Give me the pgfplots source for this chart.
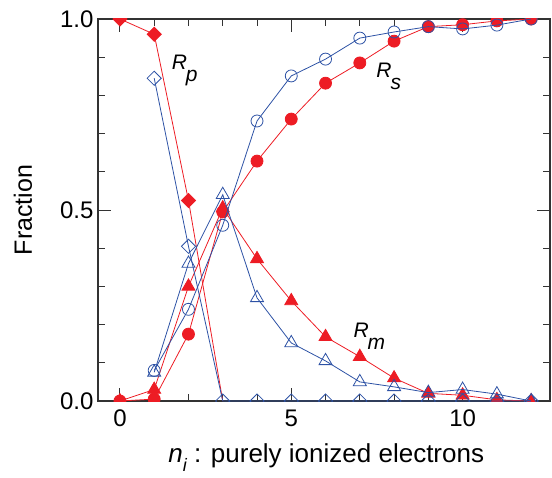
\documentclass[border=0pt]{standalone}
\usepackage{fontspec}
\setmainfont{Liberation Sans}
\usepackage{pgfplots}
\pgfplotsset{compat=1.18}
\definecolor{dred}{RGB}{237,28,36}
\definecolor{dblue}{RGB}{45,82,165}
\newcommand{\lab}[2]{{\fontsize{21bp}{25bp}\selectfont\itshape #1\kern-0.05em\raisebox{-0.6em}{#2}}}

\begin{document}
\begin{tikzpicture}
\begin{axis}[
  at={(0,0)}, anchor=south west,
  scale only axis, width=452bp, height=382bp,
  xmin=-0.64, xmax=12.55, ymin=0, ymax=1,
  xtick={0,5,10}, ytick={0,0.5,1},
  minor x tick num=4, minor y tick num=4,
  major tick length=13bp, minor tick length=7bp,
  tick style={black!80, line width=0.9bp},
  axis line style={black!80, line width=1.1bp},
  /pgf/number format/assume math mode=true,
  tick label style={font=\fontsize{24bp}{28bp}\selectfont},
  yticklabel style={/pgf/number format/fixed, /pgf/number format/fixed zerofill,
    /pgf/number format/precision=1, xshift=-1bp},
  xticklabel style={yshift=-5bp},
  every axis x label/.style={at={([yshift=-61bp]axis description cs:0.505,0)}, anchor=base,
    font=\fontsize{26bp}{30bp}\selectfont},
  every axis y label/.style={at={([xshift=-66bp]axis description cs:0,0.5)}, rotate=90, anchor=base,
    font=\fontsize{25bp}{30bp}\selectfont},
  xlabel={\textit{n}\raisebox{-0.35em}{\fontsize{18bp}{20bp}\selectfont\itshape i} : purely ionized electrons},
  ylabel={Fraction},
  clip marker paths=true,
]
% red (filled) series
\addplot[dred, line width=0.8bp, mark=square*, mark size=5bp, mark indices={1,2,3},
  mark options={rotate=45, solid, fill=dred}] coordinates {
  (0,1.0) (1,0.96) (2,0.525) (3,0)
};
\addplot[dred, line width=0.8bp, mark=*, mark size=6bp, mark options={fill=dred}] coordinates {
  (0,0) (1,0.005) (2,0.175) (3,0.495) (4,0.628) (5,0.738) (6,0.832)
  (7,0.885) (8,0.942) (9,0.98) (10,0.985) (11,0.995) (12,1.0)
};
\addplot[dred, line width=0.8bp, mark=triangle*, mark size=7.5bp, mark options={fill=dred}] coordinates {
  (0,0) (1,0.03) (2,0.30) (3,0.505) (4,0.372) (5,0.262) (6,0.168)
  (7,0.116) (8,0.06) (9,0.02) (10,0.015) (11,0.003) (12,0)
};
% blue (open) series
\addplot[dblue, line width=0.8bp, mark=square, mark size=5bp, mark options={rotate=45}] coordinates {
  (1,0.845) (2,0.405) (3,0) (4,0) (5,0) (6,0) (7,0) (8,0) (9,0) (10,0) (11,0) (12,0)
};
\addplot[dblue, line width=0.8bp, mark=o, mark size=6bp] coordinates {
  (1,0.08) (2,0.24) (3,0.46) (4,0.733) (5,0.851) (6,0.895)
  (7,0.95) (8,0.966) (9,0.98) (10,0.974) (11,0.984) (12,1.0)
};
\addplot[dblue, line width=0.8bp, mark=triangle, mark size=7.5bp] coordinates {
  (1,0.075) (2,0.36) (3,0.54) (4,0.27) (5,0.152) (6,0.105)
  (7,0.05) (8,0.037) (9,0.022) (10,0.03) (11,0.018) (12,0)
};
\node[anchor=base west, inner sep=0pt] at (axis cs:1.51,0.869) {\lab{R}{p}};
\node[anchor=base west, inner sep=0pt] at (axis cs:7.48,0.848) {\lab{R}{s}};
\node[anchor=base west, inner sep=0pt] at (axis cs:6.81,0.1675) {\lab{R}{m}};
\end{axis}
\pgfresetboundingbox
\path[use as bounding box] (-98bp,-77bp) rectangle (454bp,401bp);
\end{tikzpicture}
\end{document}
